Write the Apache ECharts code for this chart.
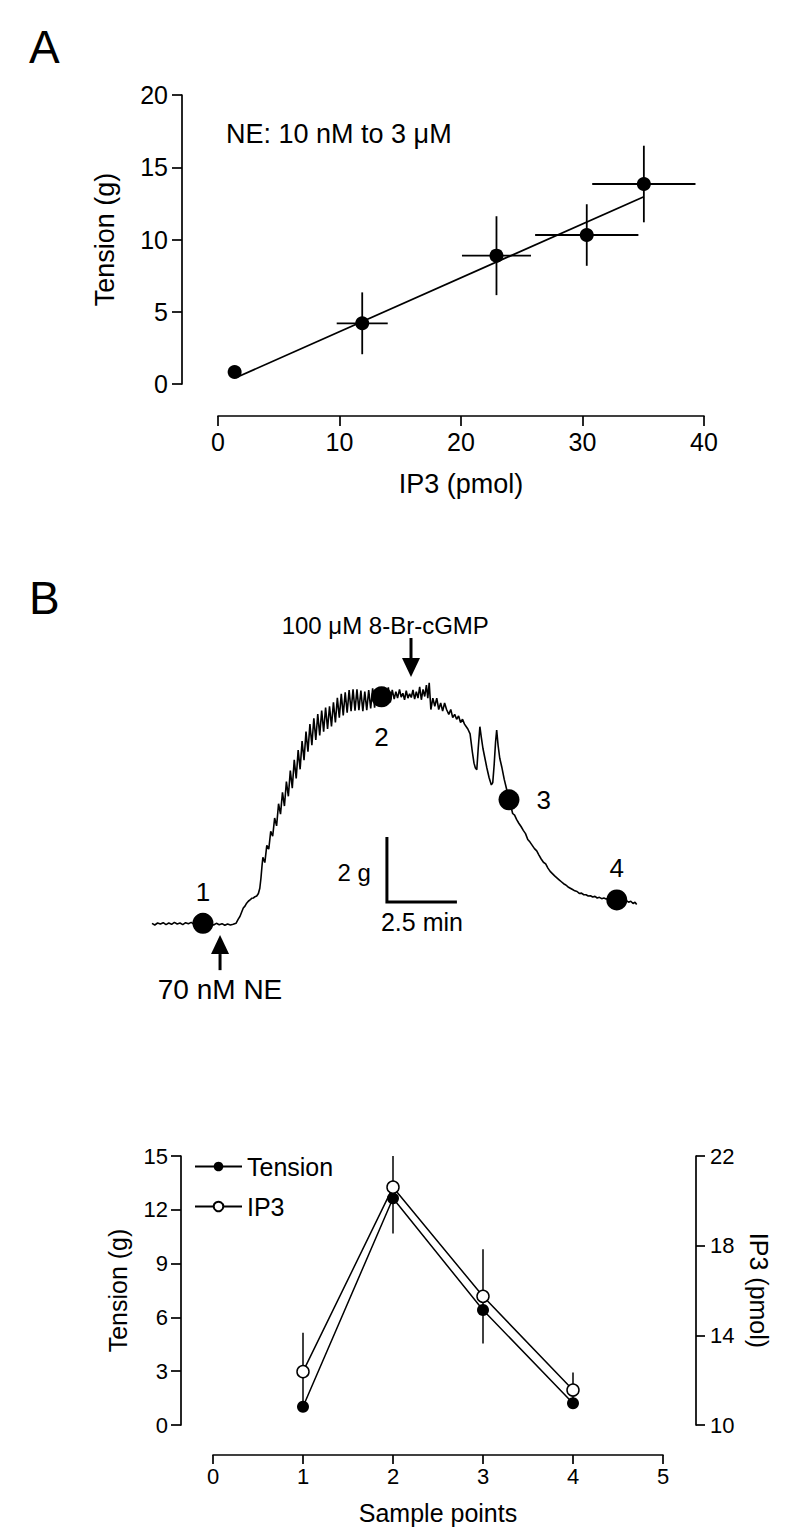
<!DOCTYPE html>
<html>
<head>
<meta charset="utf-8">
<script src="https://cdn.jsdelivr.net/npm/echarts@6/dist/echarts.min.js"></script>
<style>
html,body{margin:0;padding:0;background:#fff;}
#main{width:800px;height:1535px;}
</style>
</head>
<body>
<div id="main"></div>
<script>
// ---------- Panel A data ----------
const ip3A = [1.37, 11.87, 22.92, 30.35, 35.05];
const tensionA = [0.83, 4.2, 8.88, 10.31, 13.84];
const ip3ErrA = [0, 2.1, 2.84, 4.25, 4.25];
const tensionErrA = [0, 2.14, 2.73, 2.13, 2.65];
const fitIP3 = [1.5, 35.05];
const fitTension = [0.45, 12.96];
const ticksA_x = [0, 10, 20, 30, 40];
const ticksA_y = [0, 5, 10, 15, 20];

// ---------- Panel B data (time in min, tension in g above baseline) ----------
const trace = [
[0,0.02],[0.1,-0.03],[0.2,0.03],[0.3,0.0],[0.4,0.04],[0.5,-0.02],[0.6,0.03],[0.7,-0.01],[0.8,0.05],[0.9,0.0],
[1.0,0.03],[1.1,-0.02],[1.2,0.04],[1.3,0.01],[1.4,0.05],[1.5,-0.01],[1.6,0.03],[1.7,0.0],[1.8,0.02],[1.9,-0.03],
[2.0,0.02],[2.1,0.0],[2.2,-0.03],[2.3,0.02],[2.4,-0.02],[2.5,0.01],[2.6,-0.04],[2.7,0.0],[2.8,-0.03],[2.9,-0.01],[3.0,0.02],
[3.08,0.15],[3.14,0.23],[3.2,0.36],[3.26,0.49],[3.32,0.55],[3.38,0.64],[3.44,0.7],[3.5,0.74],[3.56,0.79],[3.62,0.8],
[3.68,0.84],[3.74,0.86],[3.8,0.94],[3.85,1.1],[3.89,1.4],[3.93,1.8],[3.96,2.05],
[4.03,1.89],[4.10,2.42],[4.17,2.3],[4.24,2.85],[4.31,2.7],[4.38,3.26],[4.45,3.02],[4.52,3.7],[4.59,3.38],
[4.66,4.05],[4.73,3.63],[4.80,4.38],[4.87,3.93],[4.94,4.72],[5.01,4.18],[5.08,5.05],[5.15,4.48],[5.22,5.35],
[5.29,4.76],[5.36,5.63],[5.43,5.04],[5.50,5.92],[5.57,5.3],[5.64,6.15],[5.71,5.5],[5.78,6.33],[5.85,5.66],
[5.92,6.46],[5.99,5.8],[6.06,6.57],[6.13,5.92],[6.20,6.66],[6.27,6.0],[6.34,6.7],[6.41,6.08],[6.48,6.82],
[6.55,6.2],[6.62,6.96],[6.69,6.35],[6.76,7.08],[6.83,6.42],[6.90,7.13],[6.97,6.5],[7.04,7.2],[7.11,6.55],
[7.18,7.22],[7.25,6.56],[7.32,7.22],[7.39,6.58],[7.46,7.18],[7.53,6.55],[7.60,7.15],[7.67,6.58],[7.74,7.2],
[7.81,6.63],[7.88,7.25],[7.95,6.66],[8.02,7.22],[8.09,6.7],[8.16,7.15],[8.23,6.75],[8.30,7.2],[8.37,6.75],
[8.44,7.28],[8.51,6.82],[8.58,7.2],[8.65,6.92],[8.71,7.15],[8.77,6.95],[8.84,7.22],[8.9,6.98],[8.96,7.1],
[9.02,6.9],[9.08,7.18],[9.14,6.95],[9.2,7.08],[9.26,6.97],[9.32,7.2],[9.38,6.92],[9.44,7.15],[9.5,6.95],
[9.56,7.3],[9.62,6.9],[9.68,7.22],[9.74,7.0],[9.8,7.35],[9.85,6.95],[9.9,7.42],[9.96,6.6],
[10.03,6.95],[10.1,6.7],[10.17,6.95],[10.24,6.6],[10.31,6.8],[10.38,6.55],[10.45,6.8],[10.52,6.6],[10.6,6.45],
[10.67,6.6],[10.74,6.35],[10.81,6.45],[10.88,6.3],[10.95,6.4],[11.02,6.2],[11.09,6.3],[11.16,6.15],[11.2,6.1],
[11.28,6.0],[11.36,5.85],[11.44,5.3],[11.5,4.95],[11.55,4.8],[11.6,4.75],[11.65,5.4],[11.71,6.07],[11.76,5.75],
[11.82,5.4],[11.89,5.1],[11.96,4.8],[12.04,4.5],[12.12,4.28],[12.17,4.35],[12.22,4.9],[12.27,5.6],[12.31,5.97],
[12.36,5.5],[12.42,5.1],[12.49,4.84],[12.58,4.45],[12.67,4.13],[12.75,3.82],[12.82,3.62],[12.88,3.4],[12.95,3.35],
[13.02,3.22],[13.1,3.1],[13.18,3.0],[13.26,2.88],[13.34,2.78],[13.42,2.6],[13.5,2.52],[13.58,2.42],[13.66,2.32],
[13.74,2.25],[13.82,2.12],[13.9,2.0],[13.98,1.9],[14.06,1.85],[14.14,1.72],[14.22,1.62],[14.3,1.55],[14.38,1.48],
[14.46,1.42],[14.54,1.36],[14.62,1.3],[14.7,1.24],[14.78,1.2],[14.86,1.14],[14.94,1.1],[15.02,1.06],[15.1,1.02],
[15.18,1.0],[15.26,0.94],[15.34,0.95],[15.42,0.9],[15.5,0.9],[15.58,0.86],[15.66,0.87],[15.74,0.83],[15.82,0.85],
[15.9,0.8],[15.98,0.82],[16.06,0.78],[16.14,0.8],[16.22,0.77],[16.3,0.79],[16.38,0.75],[16.46,0.76],[16.54,0.73],
[16.62,0.75],[16.7,0.72],[16.78,0.74],[16.86,0.7],[16.94,0.72],[17.02,0.67],[17.1,0.7],[17.18,0.63],[17.25,0.67],[17.31,0.6]
];
const sampleTimes = [1.82, 8.2, 12.75, 16.6];
const sampleTension = [0.02, 6.99, 3.82, 0.74];
const sampleLabels = ['1', '2', '3', '4'];
// drug additions: time, arrow tip, arrow tail, text anchor time, text anchor level
const additionText = ['70 nM NE', '100 \u03bcM 8-Br-cGMP'];
const additions = [[2.43, -0.34, -1.42, 2.43, -2.03], [9.25, 7.6, 8.8, 8.33, 9.2]];
// scale bar: origin time, origin level, time span (min), tension span (g)
const scaleBar = [[8.39, 0.68, 2.5, 2]];
const scaleBarText = ['2.5 min', '2 g'];

// ---------- Panel C data ----------
const samplePoints = [1, 2, 3, 4];
const tensionC = [1.02, 12.64, 6.41, 1.21];
const ip3C = [12.38, 20.61, 15.74, 11.56];
const ip3ErrC = [1.74, 2.07, 2.1, 0.78];

const FONT = 'Liberation Sans, Arial, Helvetica, sans-serif';
const black = '#000';

function axisCommon(extra) {
  return Object.assign({
    type: 'value',
    splitLine: {show: false},
    axisLine: {show: true, onZero: false, lineStyle: {color: black, width: 1.7}},
    axisTick: {show: true, length: 10, lineStyle: {color: black, width: 1.7}},
    axisLabel: {color: black, fontFamily: FONT},
    nameLocation: 'middle',
    nameTextStyle: {color: black, fontFamily: FONT}
  }, extra);
}

const chart = echarts.init(document.getElementById('main'), null, {renderer: 'svg'});

const option = {
  animation: false,
  backgroundColor: '#fff',
  textStyle: {fontFamily: FONT, color: black},
  title: [
    {text: 'A', left: 29, top: 24, padding: 0, textStyle: {fontSize: 46, fontWeight: 'normal', color: black, fontFamily: FONT}},
    {text: 'B', left: 29, top: 575, padding: 0, textStyle: {fontSize: 46, fontWeight: 'normal', color: black, fontFamily: FONT}},
    {text: 'NE: 10 nM to 3 \u03bcM', left: 226, top: 120, padding: 0, textStyle: {fontSize: 27, fontWeight: 'normal', color: black, fontFamily: FONT}}
  ],
  legend: {
    data: ['Tension', 'IP3'],
    orient: 'vertical',
    left: 194, top: 1154, padding: 0,
    itemWidth: 47, itemHeight: 12, itemGap: 15,
    textStyle: {fontSize: 25, color: black, fontFamily: FONT, lineHeight: 24}
  },
  grid: [
    {left: 218, top: 95, width: 486, height: 289},
    {left: 152, top: 924 - 9.5 * 32.5, width: 17.5 * 28, height: 12 * 32.5},
    {left: 213, top: 1156, width: 450, height: 269}
  ],
  xAxis: [
    axisCommon({gridIndex: 0, min: ticksA_x[0], max: ticksA_x[ticksA_x.length - 1], interval: 10, offset: 32,
      axisLabel: {fontSize: 25, color: black, margin: 13, fontFamily: FONT},
      name: 'IP3 (pmol)', nameGap: 54, nameTextStyle: {fontSize: 27, color: black, fontFamily: FONT}}),
    {gridIndex: 1, type: 'value', min: 0, max: 17.5, show: false},
    axisCommon({gridIndex: 2, min: 0, max: 5, interval: 1, offset: 30,
      axisTick: {show: true, length: 9, lineStyle: {color: black, width: 1.7}},
      axisLabel: {fontSize: 22, color: black, margin: 10, fontFamily: FONT},
      name: 'Sample points', nameGap: 45, nameTextStyle: {fontSize: 25, color: black, fontFamily: FONT}})
  ],
  yAxis: [
    axisCommon({gridIndex: 0, min: ticksA_y[0], max: ticksA_y[ticksA_y.length - 1], interval: 5, offset: 36,
      axisLabel: {fontSize: 25, color: black, margin: 14, fontFamily: FONT},
      name: 'Tension (g)', nameGap: 64, nameRotate: 90, nameTextStyle: {fontSize: 27, color: black, fontFamily: FONT}}),
    {gridIndex: 1, type: 'value', min: -2.5, max: 9.5, show: false},
    axisCommon({gridIndex: 2, min: 0, max: 15, interval: 3, offset: 32,
      axisLabel: {fontSize: 22, color: black, margin: 13, fontFamily: FONT},
      name: 'Tension (g)', nameGap: 51, nameRotate: 90, nameTextStyle: {fontSize: 25, color: black, fontFamily: FONT}}),
    axisCommon({gridIndex: 2, position: 'right', min: 10, max: 22, interval: 4, offset: 33,
      axisTick: {show: true, length: 9, lineStyle: {color: black, width: 1.7}},
      axisLabel: {fontSize: 22, color: black, margin: 14, fontFamily: FONT},
      name: 'IP3 (pmol)', nameGap: 50, nameRotate: -90, nameTextStyle: {fontSize: 25, color: black, fontFamily: FONT}})
  ],
  series: [
    // ---- Panel A ----
    {
      type: 'custom', xAxisIndex: 0, yAxisIndex: 0, z: 2,
      data: ip3A.map((x, i) => [x, tensionA[i], ip3ErrA[i], tensionErrA[i]]),
      renderItem: function (params, api) {
        const x = api.value(0), y = api.value(1), ex = api.value(2), ey = api.value(3);
        const l = api.coord([x - ex, y]), r = api.coord([x + ex, y]);
        const t = api.coord([x, y + ey]), b = api.coord([x, y - ey]);
        const st = {stroke: black, lineWidth: 1.8};
        return {type: 'group', children: [
          {type: 'line', shape: {x1: l[0], y1: l[1], x2: r[0], y2: r[1]}, style: st},
          {type: 'line', shape: {x1: t[0], y1: t[1], x2: b[0], y2: b[1]}, style: st}
        ]};
      }
    },
    {
      type: 'line', xAxisIndex: 0, yAxisIndex: 0, z: 3,
      data: fitIP3.map((x, i) => [x, fitTension[i]]),
      showSymbol: false, symbol: 'none',
      lineStyle: {color: black, width: 1.8}
    },
    {
      type: 'scatter', xAxisIndex: 0, yAxisIndex: 0, z: 4,
      data: ip3A.map((x, i) => [x, tensionA[i]]),
      symbol: 'circle', symbolSize: 14,
      itemStyle: {color: black, opacity: 1}
    },
    // ---- Panel B ----
    {
      type: 'line', xAxisIndex: 1, yAxisIndex: 1, z: 2,
      data: trace, showSymbol: false, symbol: 'none', clip: false,
      lineStyle: {color: black, width: 1.6}
    },
    {
      type: 'scatter', xAxisIndex: 1, yAxisIndex: 1, z: 4, clip: false,
      symbol: 'circle', symbolSize: 21,
      itemStyle: {color: black, opacity: 1},
      data: sampleTimes.map((t, i) => ({
        value: [t, sampleTension[i]],
        name: sampleLabels[i],
        label: [
          {position: 'top', distance: 8},
          {position: 'bottom', distance: 17},
          {position: 'right', distance: 17},
          {position: 'top', distance: 8}
        ][i]
      })),
      label: {show: true, formatter: p => p.name, fontSize: 26, color: black, fontFamily: FONT, opacity: 1}
    },
    {
      type: 'custom', xAxisIndex: 1, yAxisIndex: 1, z: 5, clip: false,
      data: additions,
      renderItem: function (params, api) {
        const t = api.value(0);
        const tip = api.coord([t, api.value(1)]);
        const tail = api.coord([t, api.value(2)]);
        const txt = api.coord([api.value(3), api.value(4)]);
        const dir = tail[1] > tip[1] ? 1 : -1;
        const base = tip[1] + dir * 19;
        return {type: 'group', children: [
          {type: 'line', shape: {x1: tip[0], y1: base, x2: tail[0], y2: tail[1]}, style: {stroke: black, lineWidth: 3}},
          {type: 'polygon', shape: {points: [[tip[0], tip[1]], [tip[0] - 9, base], [tip[0] + 9, base]]}, style: {fill: black}},
          {type: 'text', x: txt[0], y: txt[1], style: {text: additionText[params.dataIndex], fill: black,
            fontSize: params.dataIndex === 0 ? 28 : 24, fontFamily: FONT, align: 'center', verticalAlign: 'middle'}}
        ]};
      }
    },
    {
      type: 'custom', xAxisIndex: 1, yAxisIndex: 1, z: 5, clip: false,
      data: scaleBar,
      renderItem: function (params, api) {
        const t0 = api.value(0), g0 = api.value(1), dt = api.value(2), dg = api.value(3);
        const o = api.coord([t0, g0]);
        const top = api.coord([t0, g0 + dg]);
        const right = api.coord([t0 + dt, g0]);
        return {type: 'group', children: [
          {type: 'polyline', shape: {points: [top, o, right]}, style: {stroke: black, lineWidth: 3, fill: 'none'}},
          {type: 'text', x: (o[0] + right[0]) / 2, y: o[1] + 8, style: {text: scaleBarText[0], fill: black,
            fontSize: 25, fontFamily: FONT, align: 'center', verticalAlign: 'top'}},
          {type: 'text', x: o[0] - 16, y: (o[1] + top[1]) / 2 + 3, style: {text: scaleBarText[1], fill: black,
            fontSize: 24, fontFamily: FONT, align: 'right', verticalAlign: 'middle'}}
        ]};
      }
    },
    // ---- Panel C ----
    {
      type: 'custom', xAxisIndex: 2, yAxisIndex: 3, z: 1, clip: true,
      data: samplePoints.map((x, i) => [x, ip3C[i], ip3ErrC[i]]),
      renderItem: function (params, api) {
        const x = api.value(0), y = api.value(1), e = api.value(2);
        const t = api.coord([x, y + e]), b = api.coord([x, y - e]);
        return {type: 'line', shape: {x1: t[0], y1: t[1], x2: b[0], y2: b[1]}, style: {stroke: black, lineWidth: 1.5}};
      }
    },
    {
      name: 'Tension', type: 'line', xAxisIndex: 2, yAxisIndex: 2, z: 3,
      data: samplePoints.map((x, i) => [x, tensionC[i]]),
      symbol: 'circle', symbolSize: 12, showSymbol: true,
      itemStyle: {color: black},
      lineStyle: {color: black, width: 1.5}
    },
    {
      name: 'IP3', type: 'line', xAxisIndex: 2, yAxisIndex: 3, z: 4,
      data: samplePoints.map((x, i) => [x, ip3C[i]]),
      symbol: 'circle', symbolSize: 12, showSymbol: true,
      itemStyle: {color: '#fff', borderColor: black, borderWidth: 1.5},
      lineStyle: {color: black, width: 1.5}
    }
  ]
};
chart.setOption(option);
</script>
</body>
</html>
